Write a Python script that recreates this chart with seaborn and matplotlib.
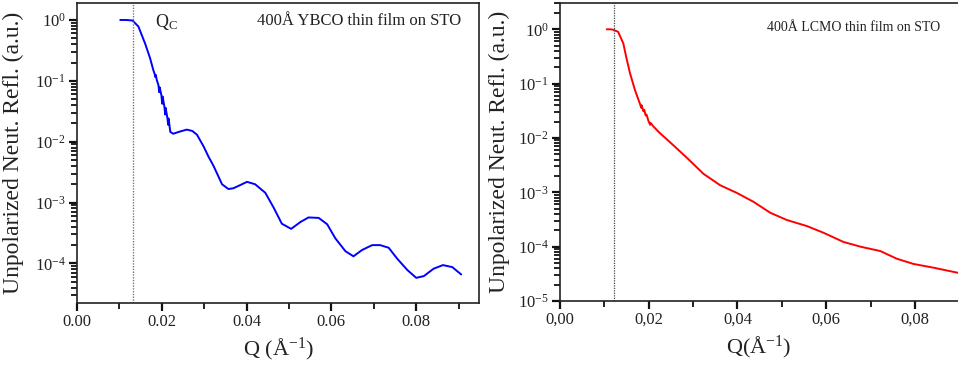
import numpy as np
import pandas as pd
import matplotlib
matplotlib.use("Agg")
import matplotlib.pyplot as plt
from matplotlib.ticker import LogLocator, MultipleLocator, FuncFormatter, NullFormatter
import seaborn as sns

# YBCO reflectivity curve
q_ybco = [0.0102, 0.0115, 0.0131, 0.01448, 0.01606, 0.01724, 0.0180, 0.0183, 0.0185,
          0.0186, 0.0188, 0.0192, 0.0194, 0.0195, 0.0199, 0.0201, 0.0202, 0.0206,
          0.0208, 0.0209, 0.0213, 0.0215, 0.0216, 0.0220, 0.0227, 0.0240, 0.0259,
          0.0272, 0.0283, 0.0298, 0.0310, 0.0322, 0.0342, 0.0357, 0.0369, 0.0401,
          0.0420, 0.0444, 0.0464, 0.0483, 0.0505, 0.0527, 0.0546, 0.0570, 0.0590,
          0.0609, 0.0633, 0.0652, 0.0672, 0.0696, 0.0715, 0.0735, 0.0755, 0.0779,
          0.0800, 0.0818, 0.0841, 0.0863, 0.0885, 0.0906]
r_ybco = [1.0, 1.0, 0.98, 0.78, 0.41, 0.235, 0.15, 0.13, 0.115,
          0.125, 0.104, 0.085, 0.065, 0.078, 0.058, 0.042, 0.055, 0.038,
          0.028, 0.036, 0.025, 0.019, 0.024, 0.0145, 0.0135, 0.0145, 0.0158,
          0.0150, 0.0130, 0.0085, 0.0057, 0.0040, 0.0020, 0.00167, 0.00172, 0.00219,
          0.0020, 0.00145, 0.00082, 0.00045, 0.00037, 0.00048, 0.00057, 0.00056, 0.00044,
          0.00026, 0.000159, 0.000131, 0.000166, 0.00020, 0.00020, 0.000181, 0.000120, 7.8e-5,
          5.8e-5, 6.2e-5, 8.2e-5, 9.4e-5, 8.7e-5, 6.6e-5]

# LCMO reflectivity curve
q_lcmo = [0.01053, 0.0115, 0.0120, 0.0131, 0.01427, 0.0150, 0.01578, 0.0169, 0.0180,
          0.0183, 0.0184, 0.0188, 0.0190, 0.0193, 0.0195, 0.0199, 0.0203, 0.0204,
          0.0210, 0.0222, 0.0255, 0.0289, 0.0323, 0.0361, 0.0398, 0.0436, 0.0474,
          0.0511, 0.0556, 0.0594, 0.0639, 0.0677, 0.0722, 0.0759, 0.0797, 0.0842, 0.0897]
r_lcmo = [1.0, 1.0, 0.98, 0.90, 0.55, 0.29, 0.155, 0.076, 0.043,
          0.036, 0.040, 0.031, 0.033, 0.026, 0.027, 0.021, 0.0175, 0.019,
          0.0165, 0.013, 0.0074, 0.0041, 0.0022, 0.00135, 0.00098, 0.00067, 0.00042,
          0.00031, 0.00024, 0.00018, 0.000122, 1.0e-4, 8.3e-5, 6.0e-5, 4.8e-5, 4.1e-5, 3.3e-5]

qc_ybco = 0.01315
qc_lcmo = 0.0121

ybco = pd.DataFrame({"Q": q_ybco, "R": r_ybco})
lcmo = pd.DataFrame({"Q": q_lcmo, "R": r_lcmo})

sns.set_style("ticks")
plt.rcParams["font.family"] = ["Liberation Serif", "DejaVu Serif"]
plt.rcParams["mathtext.fontset"] = "custom"
plt.rcParams["mathtext.rm"] = "Liberation Serif"
plt.rcParams["mathtext.it"] = "Liberation Serif:italic"
plt.rcParams["axes.unicode_minus"] = True

TXT = "#222222"
W, H = 958, 366
fig = plt.figure(figsize=(W / 100, H / 100), dpi=100)
ax1 = fig.add_axes([77 / W, (H - 303) / H, (479 - 77) / W, 300 / H])
ax2 = fig.add_axes([560 / W, (H - 301) / H, (958 - 560) / W, 298 / H])

sns.lineplot(data=ybco, x="Q", y="R", ax=ax1, color="#0000ff", lw=1.4,
             sort=False, estimator=None)
sns.lineplot(data=lcmo, x="Q", y="R", ax=ax2, color="#ff0000", lw=1.4,
             sort=False, estimator=None)

ax1.axvline(qc_ybco, color="#777777", lw=1.0, ls=(0, (1, 1)))
ax2.axvline(qc_lcmo, color="#444444", lw=0.9, ls=(0, (1, 1)))

for ax in (ax1, ax2):
    ax.set_yscale("log")
    ax.yaxis.set_major_locator(LogLocator(base=10, numticks=100))
    ax.yaxis.set_minor_locator(LogLocator(base=10, subs=np.arange(2, 10), numticks=100))
    ax.yaxis.set_minor_formatter(NullFormatter())
    ax.xaxis.set_major_locator(MultipleLocator(0.02))
    ax.xaxis.set_minor_locator(MultipleLocator(0.01))
    ax.tick_params(axis="both", which="both", bottom=True, left=True, top=False,
                   right=False, direction="out", color="#111111")
    ax.tick_params(axis="both", which="major", length=6, width=1.6,
                   labelsize=12, labelcolor=TXT, pad=2)
    ax.tick_params(axis="both", which="minor", length=4, width=1.3)
    for s in ax.spines.values():
        s.set_linewidth(1.2)
        s.set_color(TXT)
    ax.set_ylabel("Unpolarized Neut. Refl. (a.u.)", fontsize=17, color=TXT)

ax1.set_xlim(0.0, 0.0948)
ax1.set_ylim(2.24e-5, 1.9)
ax1.xaxis.set_major_formatter(FuncFormatter(lambda v, p: f"{v:.2f}"))
ax1.set_xlabel("Q (Å$^{-1}$)", fontsize=16, color=TXT, labelpad=4)
ax1.yaxis.labelpad = 8
ax1.text(0.0184, 0.935, "Q$_\\mathrm{C}$", transform=ax1.get_xaxis_transform(),
         fontsize=13, color=TXT, va="center")
ax1.text(0.955, 0.94, "400Å YBCO thin film on STO", transform=ax1.transAxes,
         fontsize=12, color=TXT, ha="right", va="center")

ax2.set_xlim(0.0, 0.0897)
ax2.set_ylim(1e-5, 3.05)
ax2.spines["right"].set_visible(False)
ax2.xaxis.set_major_formatter(FuncFormatter(lambda v, p: f"{v:.2f}".replace(".", ",")))
ax2.set_xlabel("Q(Å$^{-1}$)", fontsize=16, color=TXT, labelpad=4)
ax2.yaxis.labelpad = 6
ax2.text(0.955, 0.918, "400Å LCMO thin film on STO", transform=ax2.transAxes,
         fontsize=10, color=TXT, ha="right", va="center")

fig.savefig("out.png", dpi=100)
